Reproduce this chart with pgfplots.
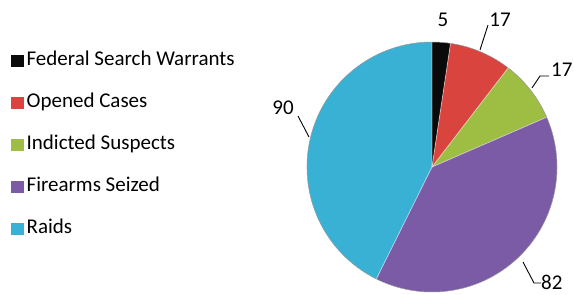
\documentclass[border=0pt]{standalone}
\usepackage{pgfplots}
\usepackage{pgfplotstable}
\pgfplotsset{compat=1.18}
\usepackage{fontspec}
\setmainfont{Carlito}
\usetikzlibrary{fadings}
\definecolor{cBlack}{HTML}{0A0A0A}
\definecolor{cRed}{HTML}{D9443F}
\definecolor{cGreen}{HTML}{9DBE43}
\definecolor{cPurple}{HTML}{7B5BA5}
\definecolor{cCyan}{HTML}{38B1D4}
\pgfdeclareradialshading{pieedgeshade}{\pgfpointorigin}{color(0bp)=(pgftransparent!100); color(44bp)=(pgftransparent!100); color(50bp)=(pgftransparent!60)}
\pgfdeclarefading{pieedge}{\pgfuseshading{pieedgeshade}}
\pgfplotstableread{
value
5
17
17
82
90
}\piedata
\newcommand\lblfont{\fontsize{21}{24}\selectfont}
\begin{document}
\begin{tikzpicture}
\pgfplotstablegetelem{0}{value}\of\piedata \let\vA\pgfplotsretval
\pgfplotstablegetelem{1}{value}\of\piedata \let\vB\pgfplotsretval
\pgfplotstablegetelem{2}{value}\of\piedata \let\vC\pgfplotsretval
\pgfplotstablegetelem{3}{value}\of\piedata \let\vD\pgfplotsretval
\pgfplotstablegetelem{4}{value}\of\piedata \let\vE\pgfplotsretval
\pgfmathsetmacro\tot{\vA+\vB+\vC+\vD+\vE}
\pgfmathsetmacro\aZ{90}
\pgfmathsetmacro\aA{\aZ-360*(\vA/\tot)}
\pgfmathsetmacro\aB{\aA-360*(\vB/\tot)}
\pgfmathsetmacro\aC{\aB-360*(\vC/\tot)}
\pgfmathsetmacro\aD{\aC-360*(\vD/\tot)}
\pgfmathsetmacro\aE{\aD-360*(\vE/\tot)}
\begin{axis}[
  scale only axis, width=574pt, height=295pt,
  xmin=0, xmax=574, ymin=0, ymax=295,
  hide axis, clip=false,
  legend cell align=left,
  legend style={at={(0.014,0.51)}, anchor=west, draw=none, fill=none,
    font=\lblfont, row sep=20.5pt,
    nodes={inner sep=1pt, text height=15pt, text depth=4.5pt},
    /tikz/every even column/.append style={column sep=0pt}},
  legend image code/.code={\fill[#1] (0pt,-5.5pt) rectangle (12pt,5.5pt);\path (14pt,0pt);},
]
\addlegendimage{cBlack}\addlegendentry{Federal Search Warrants}
\addlegendimage{cRed}\addlegendentry{Opened Cases}
\addlegendimage{cGreen}\addlegendentry{Indicted Suspects}
\addlegendimage{cPurple}\addlegendentry{Firearms Seized}
\addlegendimage{cCyan}\addlegendentry{Raids}
\fill[cBlack] (axis cs:432,128) -- ++(\aZ:125pt) arc[start angle=\aZ, end angle=\aA, radius=125pt] -- cycle;
\fill[cRed] (axis cs:432,128) -- ++(\aA:125pt) arc[start angle=\aA, end angle=\aB, radius=125pt] -- cycle;
\fill[cGreen] (axis cs:432,128) -- ++(\aB:125pt) arc[start angle=\aB, end angle=\aC, radius=125pt] -- cycle;
\fill[cPurple] (axis cs:432,128) -- ++(\aC:125pt) arc[start angle=\aC, end angle=\aD, radius=125pt] -- cycle;
\fill[cCyan] (axis cs:432,128) -- ++(\aD:125pt) arc[start angle=\aD, end angle=\aE, radius=125pt] -- cycle;
\fill[black, path fading=pieedge] (axis cs:432,128) circle[radius=125pt];
\draw[white, opacity=0.5, line width=0.8pt] (axis cs:432,128) -- ++(\aA:125pt);
\draw[white, opacity=0.5, line width=0.8pt] (axis cs:432,128) -- ++(\aB:125pt);
\draw[white, opacity=0.5, line width=0.8pt] (axis cs:432,128) -- ++(\aC:125pt);
\draw[white, opacity=0.5, line width=0.8pt] (axis cs:432,128) -- ++(\aD:125pt);
\draw[white, opacity=0.5, line width=0.8pt] (axis cs:432,128) -- ++(\aE:125pt);
\draw[black!40, line width=0.5pt] (axis cs:432,128) circle[radius=125pt];
\addplot[black, line width=0.9pt, no marks] coordinates {(480,245) (488,270)};
\addplot[black, line width=0.9pt, no marks] coordinates {(532,207) (540,219) (549,219)};
\addplot[black, line width=0.9pt, no marks] coordinates {(309,158) (298,179)};
\addplot[black, line width=0.9pt, no marks] coordinates {(523,33) (534,12) (541,12)};
\node[font=\lblfont] at (axis cs:443,275) {5};
\node[font=\lblfont] at (axis cs:500,275) {17};
\node[font=\lblfont, anchor=west, inner sep=0pt] at (axis cs:551,225) {17};
\node[font=\lblfont] at (axis cs:283,187) {90};
\node[font=\lblfont, anchor=west, inner sep=0pt] at (axis cs:541,12.5) {82};
\end{axis}
\pgfresetboundingbox
\path[use as bounding box] (current axis.south west) rectangle (current axis.north east);
\end{tikzpicture}
\end{document}
